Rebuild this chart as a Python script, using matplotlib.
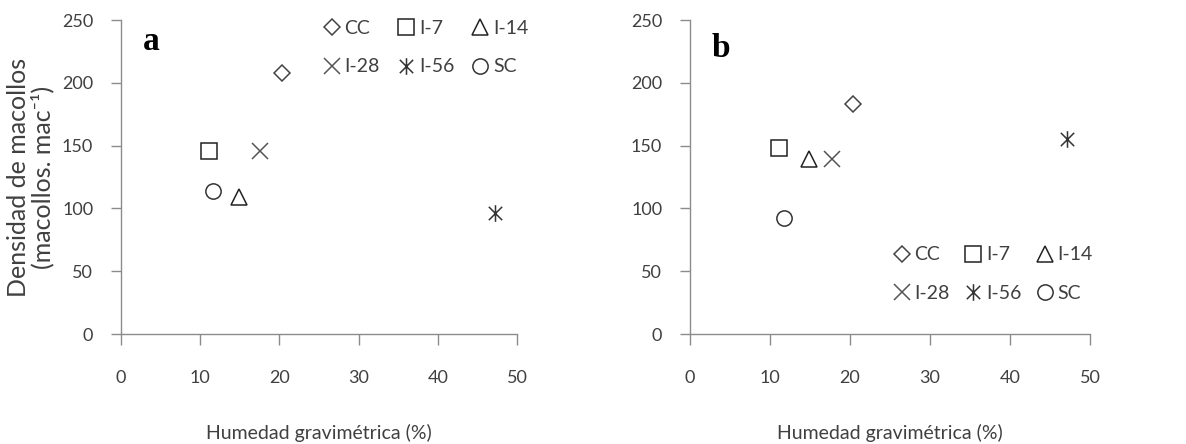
import numpy as np
import matplotlib
matplotlib.use("Agg")
import matplotlib.pyplot as plt
from matplotlib.path import Path

plt.rcParams['font.family'] = ['Lato', 'DejaVu Sans']

# treatment names and values
labels = ["CC", "I-7", "I-14", "I-28", "I-56", "SC"]
hum_a = [20.3, 11.1, 14.9, 17.6, 47.2, 11.6]
dens_a = [208, 146, 109, 146, 96, 114]
hum_b = [20.4, 11.1, 14.9, 17.8, 47.1, 11.8]
dens_b = [183, 148, 139, 139, 155, 92]

xticks = [0, 10, 20, 30, 40, 50]
yticks = [0, 50, 100, 150, 200, 250]

# six-armed star (x with a vertical bar)
star = Path([(-1, -1), (1, 1), (-1, 1), (1, -1), (0, -1.25), (0, 1.25)],
            [Path.MOVETO, Path.LINETO, Path.MOVETO, Path.LINETO, Path.MOVETO, Path.LINETO])
markers = ["D", "s", "^", "x", star, "o"]
msizes = [8, 11, 11, 12, 12, 11]
colors = ["#444444", "#222222", "#222222", "#555555", "#333333", "#333333"]

grey = "#8c8c8c"
txt = "#404040"

fig = plt.figure(figsize=(11.86, 4.44), dpi=100)
ax1 = fig.add_axes([0.102, 0.2477, 0.334, 0.7072])
ax2 = fig.add_axes([0.5818, 0.2477, 0.3373, 0.7072])

# legend is filled column by column, so reorder to read row by row
leg_order = [0, 3, 1, 4, 2, 5]


def panel(ax, xs, ys, letter, lpos, leg_anchor, colsp):
    hs = []
    for i in range(len(labels)):
        h, = ax.plot(xs[i], ys[i], linestyle="none", marker=markers[i], markersize=msizes[i],
                     markerfacecolor="none", markeredgecolor=colors[i], markeredgewidth=1.1,
                     label=labels[i])
        hs.append(h)
    ax.set_xlim(0, 50)
    ax.set_ylim(0, 250)
    ax.set_xticks(xticks)
    ax.set_yticks(yticks)
    for s in ["top", "right"]:
        ax.spines[s].set_visible(False)
    for s in ["left", "bottom"]:
        ax.spines[s].set_color(grey)
        ax.spines[s].set_linewidth(1.0)
    ax.tick_params(axis="x", direction="out", length=8, width=1.0, color=grey,
                   pad=18, labelsize=13, labelcolor=txt)
    ax.tick_params(axis="y", direction="out", length=7, width=1.0, color=grey,
                   pad=13, labelsize=13, labelcolor=txt)
    ax.set_xlabel("Humedad gravimétrica (%)", fontsize=14, color=txt, labelpad=27)
    ax.text(lpos[0], lpos[1], letter, transform=ax.transAxes, fontsize=24, fontweight="bold",
            family="Liberation Serif", ha="left", va="baseline", color="black")
    ax.legend([hs[k] for k in leg_order], [labels[k] for k in leg_order],
              loc="upper left", bbox_to_anchor=leg_anchor, ncol=3, frameon=False,
              fontsize=14, handlelength=0.8, handletextpad=0.25, columnspacing=colsp,
              labelspacing=1.1, borderpad=0, borderaxespad=0, labelcolor=txt)


panel(ax1, hum_a, dens_a, "a", (0.056, 0.904), (0.513, 1.0), 0.95)
panel(ax2, hum_b, dens_b, "b", (0.055, 0.882), (0.51, 0.279), 0.8)
ax1.set_ylabel("Densidad de macollos\n(macollos. mac⁻¹)", fontsize=18, color=txt,
               linespacing=1.0, va="center")
ax1.yaxis.set_label_coords(-0.2285, 0.5)

fig.savefig("out.png", dpi=100)
